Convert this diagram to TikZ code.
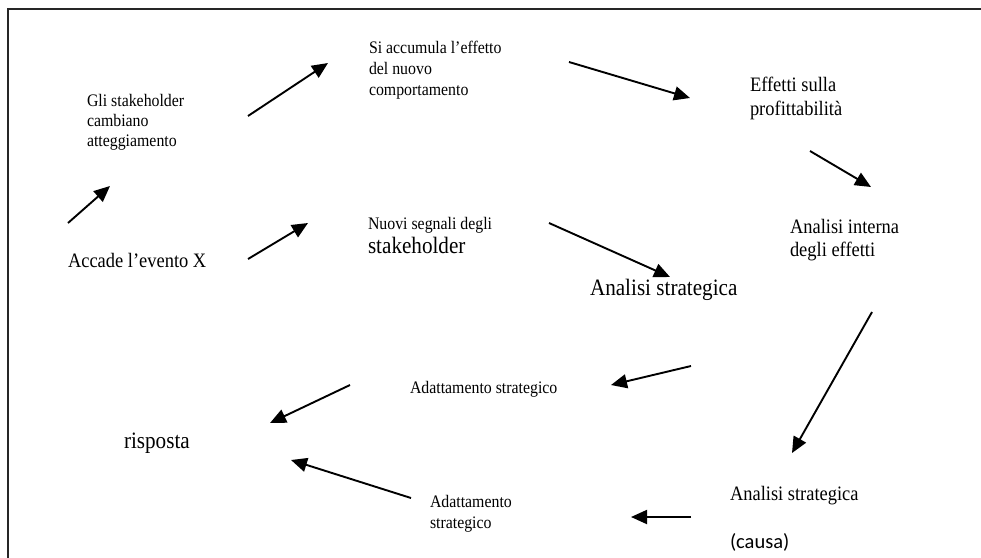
\documentclass[tikz,border=0pt]{standalone}
\usepackage{fontspec}
\setmainfont{Liberation Serif}[FakeStretch=0.9]
\newfontfamily\calib{Carlito}
\usetikzlibrary{arrows.meta}

\tikzset{
  lbl/.style={anchor=base west, inner sep=0pt, outer sep=0pt},
  small/.style={lbl, font=\fontsize{17.6}{21}\selectfont},
  medium/.style={lbl, font=\fontsize{20.5}{24}\selectfont},
  large/.style={lbl, font=\fontsize{23.5}{28}\selectfont},
  flow/.style={line width=1.9pt, -{Triangle[length=16pt,width=14pt]}},
  frame/.style={line width=2pt, draw=black!85},
}

\begin{document}
\begin{tikzpicture}[x=1pt, y=-1pt]
  \useasboundingbox (0,0) rectangle (981,557);

  % open frame along the top and left edges
  \coordinate (fbl) at (8,570);
  \coordinate (ftr) at (995,9);
  \draw[frame] (fbl) |- (ftr);

  % labels
  \node[small] (acc1) at (369,53) {Si accumula l'effetto};
  \node[small] (acc2) at (369,74) {del nuovo};
  \node[small] (acc3) at (369,95) {comportamento};

  \node[small] (gli1) at (87,106) {Gli stakeholder};
  \node[small] (gli2) at (87,126) {cambiano};
  \node[small] (gli3) at (87,146) {atteggiamento};

  \node[medium] (evento) at (68,267) {Accade l'evento X};

  \node[medium] (eff1) at (750,91) {Effetti sulla};
  \node[medium] (eff2) at (750,115) {profittabilità};

  \node[medium] (int1) at (790,233) {Analisi interna};
  \node[medium] (int2) at (790,256) {degli effetti};

  \node[small] (seg1) at (368,229) {Nuovi segnali degli};
  \node[large] (seg2) at (368,253) {stakeholder};

  \node[large] (strat) at (590,295) {Analisi strategica};

  \node[small] (adatt) at (410,393) {Adattamento strategico};

  \node[large] (risp) at (124,448) {risposta};

  \node[small] (adb1) at (430,507) {Adattamento};
  \node[small] (adb2) at (430,528) {strategico};

  \node[medium] (causa1) at (730,500) {Analisi strategica};
  \node[lbl, font=\calib\fontsize{20.5}{24}\selectfont] (causa2) at (730,548) {(causa)};

  % arrow end points
  \coordinate (a1s) at (68,223);  \coordinate (a1e) at (110,186);
  \coordinate (a2s) at (248,116); \coordinate (a2e) at (328,63);
  \coordinate (a3s) at (248,259); \coordinate (a3e) at (308,223);
  \coordinate (a4s) at (569,62);  \coordinate (a4e) at (690,98);
  \coordinate (a5s) at (810,151); \coordinate (a5e) at (871,187);
  \coordinate (a6s) at (549,223); \coordinate (a6e) at (670,277);
  \coordinate (a7s) at (872,312); \coordinate (a7e) at (792,453);
  \coordinate (a8s) at (691,366); \coordinate (a8e) at (611,385);
  \coordinate (a9s) at (350,385); \coordinate (a9e) at (270,423);
  \coordinate (a10s) at (411,498); \coordinate (a10e) at (291,460);
  \coordinate (a11s) at (691,517); \coordinate (a11e) at (631,517);

  % arrows
  \foreach \i in {1,...,11}
    \draw[flow] (a\i s) -- (a\i e);
\end{tikzpicture}
\end{document}
